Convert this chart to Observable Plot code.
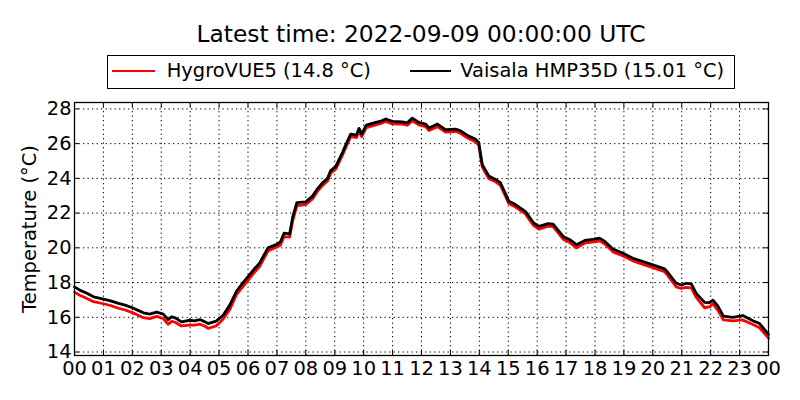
<!DOCTYPE html>
<html>
<head>
<meta charset="utf-8">
<script src="https://cdn.jsdelivr.net/npm/d3@7"></script>
<script src="https://cdn.jsdelivr.net/npm/@observablehq/plot@0.6"></script>
<style>
  html, body { margin: 0; padding: 0; background: #fff; }
  #wrap { position: relative; width: 800px; height: 400px; font-family: "DejaVu Sans", sans-serif; color: #000; overflow: hidden; }
  #title { position: absolute; left: 74px; width: 694px; top: 22.6px; text-align: center; font-size: 23.33px; line-height: 23.33px; white-space: nowrap; }
  #legend { position: absolute; left: 107.3px; top: 55px; width: 628.2px; height: 34.3px; box-sizing: border-box; border: 1.3px solid #000; background: #fff; }
  .sw { position: absolute; top: 13.65px; height: 2.7px; }
  .lt { position: absolute; top: 0; line-height: 30.5px; font-size: 19.44px; white-space: nowrap; }
  #chart { position: absolute; left: 0; top: 95px; }
</style>
</head>
<body>
<div id="wrap">
  <div id="title"></div>
  <div id="legend"></div>
  <div id="chart"></div>
</div>
<script>
const titleText = "Latest time: 2022-09-09 00:00:00 UTC";
const seriesNames = ["HygroVUE5 (14.8 °C)", "Vaisala HMP35D (15.01 °C)"];
const seriesColors = ["#ff0000", "#000000"];
const yLabel = "Temperature (°C)";
const xTicks = [0,1,2,3,4,5,6,7,8,9,10,11,12,13,14,15,16,17,18,19,20,21,22,23,24];
const yTicks = [14,16,18,20,22,24,26,28];

const hours = [0.0,0.2,0.43,0.66,1.0,1.25,1.52,1.75,2.0,2.2,2.38,2.6,2.84,3.07,3.24,3.36,3.5,3.7,3.99,4.15,4.33,4.5,4.62,4.9,5.14,5.37,5.6,5.83,6.0,6.2,6.4,6.69,7.0,7.12,7.25,7.44,7.55,7.69,8.0,8.23,8.4,8.58,8.75,8.86,9.04,9.27,9.4,9.55,9.75,9.84,9.93,10.09,10.42,10.6,10.76,10.99,11.34,11.51,11.68,11.91,12.14,12.26,12.55,12.83,13.18,13.35,13.58,13.87,13.98,14.1,14.33,14.56,14.73,15.02,15.25,15.59,15.88,16.06,16.38,16.55,16.9,17.13,17.36,17.65,17.99,18.16,18.34,18.62,18.97,19.31,19.66,20.0,20.41,20.52,20.81,20.98,21.16,21.33,21.5,21.79,21.96,22.08,22.25,22.44,22.77,23.11,23.46,23.69,24.0];

const vaisala = [17.75,17.55,17.38,17.18,17.05,16.95,16.8,16.7,16.55,16.4,16.26,16.18,16.3,16.18,15.87,16.03,15.95,15.74,15.83,15.8,15.87,15.75,15.64,15.78,16.12,16.7,17.5,18.0,18.34,18.75,19.12,20.0,20.2,20.35,20.85,20.8,21.8,22.6,22.65,22.98,23.4,23.75,24.0,24.45,24.7,25.5,26.0,26.55,26.49,26.88,26.55,27.07,27.22,27.3,27.42,27.28,27.26,27.2,27.47,27.22,27.13,26.9,27.13,26.8,26.84,26.74,26.49,26.26,26.07,24.81,24.13,23.94,23.75,22.69,22.49,22.1,21.43,21.24,21.39,21.37,20.66,20.47,20.18,20.43,20.5,20.56,20.37,19.93,19.69,19.4,19.21,19.02,18.79,18.58,17.96,17.86,17.96,17.92,17.38,16.86,16.84,16.99,16.64,16.07,15.99,16.1,15.8,15.64,15.01];

const hygrovue = [17.45,17.25,17.08,16.9,16.78,16.68,16.52,16.42,16.27,16.12,15.98,15.92,16.05,15.93,15.6,15.76,15.7,15.5,15.55,15.55,15.6,15.5,15.36,15.5,15.9,16.45,17.3,17.78,18.12,18.55,18.92,19.82,20.05,20.15,20.65,20.62,21.6,22.42,22.5,22.82,23.25,23.6,23.85,24.3,24.55,25.35,25.85,26.4,26.35,26.72,26.4,26.92,27.08,27.16,27.28,27.14,27.12,27.06,27.32,27.08,26.98,26.76,26.98,26.66,26.7,26.6,26.34,26.1,25.9,24.65,23.98,23.8,23.6,22.55,22.35,21.95,21.28,21.08,21.25,21.22,20.5,20.3,20.0,20.28,20.35,20.4,20.22,19.77,19.53,19.25,19.05,18.86,18.62,18.4,17.75,17.66,17.72,17.7,17.15,16.55,16.6,16.78,16.4,15.85,15.8,15.85,15.58,15.4,14.8];

// title and legend
document.getElementById("title").textContent = titleText;
const legend = document.getElementById("legend");
const swLeft = [4.1, 301.4];
const swWidth = [42.3, 41.7];
const txLeft = [58.4, 351.9];
seriesNames.forEach((name, i) => {
  const sw = document.createElement("div");
  sw.className = "sw";
  sw.style.left = swLeft[i] + "px";
  sw.style.width = swWidth[i] + "px";
  sw.style.background = seriesColors[i];
  legend.appendChild(sw);
  const t = document.createElement("div");
  t.className = "lt";
  t.style.left = txLeft[i] + "px";
  t.textContent = name;
  legend.appendChild(t);
});

const redData = hours.map((h, i) => ({h, v: hygrovue[i]}));
const blackData = hours.map((h, i) => ({h, v: vaisala[i]}));

const W = 800, H = 305, mt = 7, mb = 45, ml = 74, mr = 32;
const pw = W - ml - mr, ph = H - mt - mb;
const tk = 5;

const chart = Plot.plot({
  width: W, height: H,
  marginTop: mt, marginBottom: mb, marginLeft: ml, marginRight: mr,
  style: {fontFamily: "DejaVu Sans, sans-serif", fontSize: "19.44px", color: "#000", background: "transparent"},
  x: {domain: [0, 24], label: null},
  y: {domain: [13.8, 28.37], label: null},
  marks: [
    Plot.gridX(xTicks, {stroke: "#000", strokeOpacity: 1, strokeWidth: 1, strokeDasharray: "1.3,3.2"}),
    Plot.gridY(yTicks, {stroke: "#000", strokeOpacity: 1, strokeWidth: 1, strokeDasharray: "1.3,3.2"}),
    Plot.line(redData, {x: "h", y: "v", stroke: seriesColors[0], strokeWidth: 2.8}),
    Plot.line(blackData, {x: "h", y: "v", stroke: seriesColors[1], strokeWidth: 2.8}),
    Plot.ruleX(xTicks, {x: d => d, stroke: "#000", insetTop: ph - tk}),
    Plot.ruleX(xTicks, {x: d => d, stroke: "#000", insetBottom: ph - tk}),
    Plot.ruleY(yTicks, {y: d => d, stroke: "#000", insetRight: pw - tk}),
    Plot.ruleY(yTicks, {y: d => d, stroke: "#000", insetLeft: pw - tk}),
    Plot.frame({stroke: "#000", strokeWidth: 1.3}),
    Plot.axisX(xTicks, {tickSize: 0, tickPadding: 6, tickFormat: d => String(d % 24).padStart(2, "0"), label: null}),
    Plot.axisY(yTicks, {tickSize: 0, tickPadding: 3, tickFormat: d => String(d), label: null}),
    Plot.text([yLabel], {frameAnchor: "left", dx: -45.2, rotate: -90, textAnchor: "middle", lineAnchor: "middle", fontSize: 19.44})
  ]
});
document.getElementById("chart").appendChild(chart);
</script>
</body>
</html>
